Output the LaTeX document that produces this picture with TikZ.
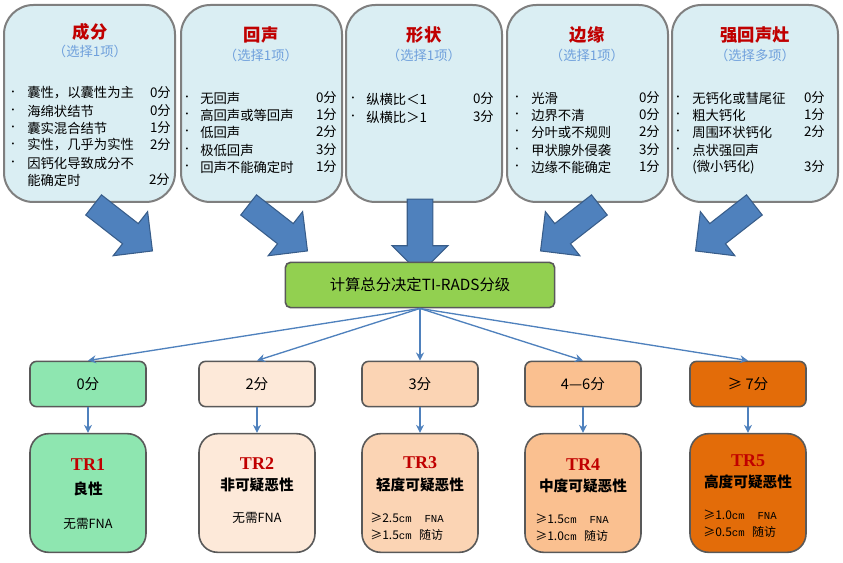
\documentclass[tikz,border=0pt]{standalone}
\usepackage{fontspec}
\setmainfont{Noto Sans CJK SC}
\newfontfamily\trfont{Liberation Serif}
\newfontfamily\monof{Liberation Mono}
\usetikzlibrary{shapes.arrows,arrows.meta}
\definecolor{boxblue}{HTML}{DAEEF3}
\definecolor{bordg}{HTML}{7F7F7F}
\definecolor{tred}{HTML}{C00000}
\definecolor{subb}{HTML}{6FA0DC}
\definecolor{arrb}{HTML}{4F81BD}
\definecolor{arrd}{HTML}{385D8A}
\definecolor{cA}{HTML}{8EE6B0}
\definecolor{cB}{HTML}{FDE9D9}
\definecolor{cC}{HTML}{FBD4B4}
\definecolor{cD}{HTML}{FAC090}
\definecolor{cE}{HTML}{E36C09}
\definecolor{cG}{HTML}{92D050}
\begin{document}
\begin{tikzpicture}[x=0.75pt,y=-0.75pt,
  topbox/.style={draw=bordg,line width=1.5pt,fill=boxblue,rounded corners=22pt},
  ttl/.style={font=\fontsize{13}{13}\selectfont\bfseries,text=tred},
  sub/.style={font=\fontsize{10}{10}\selectfont,text=subb},
  it/.style={font=\fontsize{10}{10}\selectfont,anchor=west,inner sep=0pt},
  sc/.style={font=\fontsize{10}{10}\selectfont,anchor=east,inner sep=0pt},
  bul/.style={font=\fontsize{7}{8}\selectfont,inner sep=0pt},
  big/.style={single arrow,draw=arrd,fill=arrb,line width=0.8pt,minimum height=56pt,minimum width=42pt,single arrow head extend=10pt,inner sep=8pt,text width=0pt,anchor=center},
  sbox/.style={draw=bordg!70!black,line width=1.2pt,rounded corners=5pt,minimum width=87pt,minimum height=34pt,font=\fontsize{11}{12}\selectfont},
  trbox/.style={draw=bordg!70!black,line width=1.2pt,rounded corners=14pt,minimum width=87pt,minimum height=89pt},
  tr/.style={font=\trfont\fontsize{13.5}{14}\selectfont\bfseries,text=tred,inner sep=0pt},
  trs/.style={font=\fontsize{11}{11}\selectfont\bfseries,inner sep=0pt},
  fna/.style={font=\fontsize{9}{9}\selectfont,inner sep=0pt,anchor=west},
  thin/.style={draw=arrb,line width=1pt,-{Stealth[length=6pt,width=6pt]}}]
\useasboundingbox (0,0) rectangle (843,563);
\path[topbox] (4,5) rectangle (175,202);
\path[topbox] (181,5) rectangle (342,202);
\path[topbox] (346,5) rectangle (502,202);
\path[topbox] (507,5) rectangle (668,202);
\path[topbox] (672,5) rectangle (838,202);
\node[ttl] (t1) at (90,32) {成分}; \node[sub] (s1) at (90,51) {（选择1项）};
\node[ttl] (t2) at (261,35) {回声}; \node[sub] (s2) at (261,55) {（选择1项）};
\node[ttl] (t3) at (424,35) {形状}; \node[sub] (s3) at (424,55) {（选择1项）};
\node[ttl] (t4) at (587,35) {边缘}; \node[sub] (s4) at (587,55) {（选择1项）};
\node[ttl] (t5) at (755,35) {强回声灶}; \node[sub] (s5) at (755,55) {（选择多项）};
\foreach \y/\t/\s [count=\i] in {93/囊性，以囊性为主/0分,111/海绵状结节/0分,128/囊实混合结节/1分,145/实性，几乎为实性/2分,163/因钙化导致成分不/}{
  \node[bul] (p1\i) at (13,\y) {•}; \node[it] (x1\i) at (27,\y) {\t}; \node[sc] (y1\i) at (171,\y) {\s};}
\node[it] (x16) at (27,180) {能确定时}; \node[sc] (y16) at (170,180) {2分};
\foreach \y/\t/\s [count=\i] in {98/无回声/0分,115/高回声或等回声/1分,132/低回声/2分,150/极低回声/3分,167/回声不能确定时/1分}{
  \node[bul] (p2\i) at (187,\y) {•}; \node[it] (x2\i) at (200,\y) {\t}; \node[sc] (y2\i) at (337,\y) {\s};}
\foreach \y/\t/\s [count=\i] in {99/纵横比＜1/0分,117/纵横比＞1/3分}{
  \node[bul] (p3\i) at (353,\y) {•}; \node[it] (x3\i) at (366,\y) {\t}; \node[sc] (y3\i) at (494,\y) {\s};}
\foreach \y/\t/\s [count=\i] in {98/光滑/0分,115/边界不清/0分,132/分叶或不规则/2分,150/甲状腺外侵袭/3分,167/边缘不能确定/1分}{
  \node[bul] (p4\i) at (517,\y) {•}; \node[it] (x4\i) at (531,\y) {\t}; \node[sc] (y4\i) at (660,\y) {\s};}
\foreach \y/\t/\s [count=\i] in {98/无钙化或彗尾征/0分,115/粗大钙化/1分,132/周围环状钙化/2分,150/点状强回声/}{
  \node[bul] (p5\i) at (678,\y) {•}; \node[it] (x5\i) at (692,\y) {\t}; \node[sc] (y5\i) at (825,\y) {\s};}
\node[it] (x55) at (692,167) {(微小钙化)}; \node[sc] (y55) at (825,167) {3分};
\node[big,rotate=-38] (a1) at (118,224) {};
\node[big,rotate=-38] (a2) at (273,224) {};
\node[big,rotate=-90] (a3) at (420,230) {};
\node[big,rotate=-142] (a4) at (575,224) {};
\node[big,rotate=-142] (a5) at (730,224) {};
\node[draw=bordg!70!black,line width=1.2pt,fill=cG,rounded corners=4pt,minimum width=202pt,minimum height=34pt,font=\fontsize{11.5}{12}\selectfont] (c) at (420,285) {计算总分决定TI-RADS分级};
\node[sbox,fill=cA] (k1) at (88,384) {0分};
\node[sbox,fill=cB] (k2) at (257,384) {2分};
\node[sbox,fill=cC] (k3) at (420,384) {3分};
\node[sbox,fill=cD] (k4) at (583,384) {4—6分};
\node[sbox,fill=cE] (k5) at (748,384) {≥ 7分};
\foreach \i in {1,...,5}{\draw[thin] (c.south) -- (k\i.north);}
\node[trbox,fill=cA] (r1) at (88,493) {};
\node[trbox,fill=cB] (r2) at (257,493) {};
\node[trbox,fill=cC] (r3) at (420,493) {};
\node[trbox,fill=cD] (r4) at (583,493) {};
\node[trbox,fill=cE] (r5) at (748,493) {};
\foreach \i in {1,...,5}{\draw[thin] (k\i.south) -- (r\i.north);}
\node[tr] (l1) at (88,465) {TR1}; \node[trs] (m1) at (88,489) {良性};
\node[font=\fontsize{9.5}{10}\selectfont,inner sep=0pt] (n1) at (88,524) {无需FNA};
\node[tr] (l2) at (257,464) {TR2}; \node[trs] (m2) at (257,485) {非可疑恶性};
\node[font=\fontsize{9.5}{10}\selectfont,inner sep=0pt] (n2) at (257,518) {无需FNA};
\node[tr] (l3) at (420,463) {TR3}; \node[trs] (m3) at (420,485) {轻度可疑恶性};
\node[tr] (l4) at (583,465) {TR4}; \node[trs] (m4) at (583,486) {中度可疑恶性};
\node[tr] (l5) at (748,461) {TR5}; \node[trs] (m5) at (748,482) {高度可疑恶性};
\node[fna] (f3a) at (370,518) {≥2.5{\monof\fontsize{8}{8}\selectfont cm\ \ FNA}};
\node[fna] (f3b) at (370,535) {≥1.5{\monof\fontsize{8}{8}\selectfont cm}\ \ \,随访};
\node[fna] (f4a) at (535,519) {≥1.5{\monof\fontsize{8}{8}\selectfont cm\ \ FNA}};
\node[fna] (f4b) at (535,536) {≥1.0{\monof\fontsize{8}{8}\selectfont cm}\ \ \,随访};
\node[fna] (f5a) at (703,515) {≥1.0{\monof\fontsize{8}{8}\selectfont cm\ \ FNA}};
\node[fna] (f5b) at (703,532) {≥0.5{\monof\fontsize{8}{8}\selectfont cm}\ \ \,随访};
\end{tikzpicture}
\end{document}
